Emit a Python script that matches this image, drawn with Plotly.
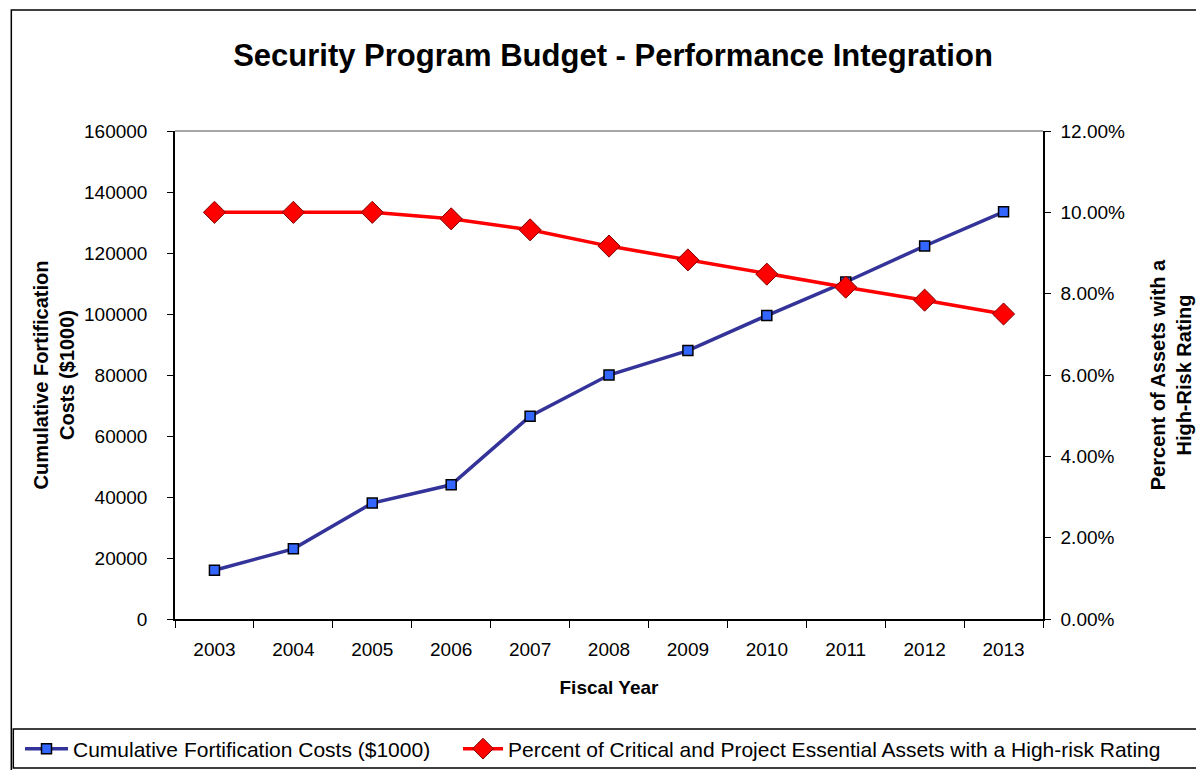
import plotly.graph_objects as go

years = ["2003", "2004", "2005", "2006", "2007", "2008", "2009", "2010", "2011", "2012", "2013"]
costs = [16000, 23000, 38000, 44000, 66500, 80000, 88000, 99500, 110500, 122300, 133500]
pct = [0.1000, 0.1000, 0.1000, 0.0984, 0.0957, 0.0917, 0.0883, 0.0848, 0.0816, 0.0784, 0.0750]

FONT = "Liberation Sans, Arial, sans-serif"

# page body has an 8px margin; work in figure coordinates (screen - 8)
OFF = 8
W, H = 1204 - OFF, 770 - OFF
L, R, T, B = 175 - OFF, W - (1050 - OFF), 131 - OFF, H - (619 - OFF)
pw, ph = W - L - R, H - T - B

def px(x):  # screen x -> paper
    return (x - OFF - L) / pw

def py(y):  # screen y -> paper
    return (H - B - (y - OFF)) / ph

def cx(x):  # screen x -> container
    return (x - OFF) / W

def cy(y):  # screen y -> container
    return 1 - (y - OFF) / H

fig = go.Figure()
fig.add_trace(go.Scatter(
    x=years, y=costs, name="Cumulative Fortification Costs ($1000)",
    mode="lines+markers", legend="legend",
    line=dict(color="#333399", width=3.5),
    marker=dict(symbol="square", size=10, color="#3366FF", line=dict(color="#000000", width=1.5)),
))
fig.add_trace(go.Scatter(
    x=years, y=pct, name="Percent of Critical and Project Essential Assets with a High-risk Rating",
    mode="lines+markers", yaxis="y2", legend="legend2",
    line=dict(color="#FF0000", width=3.5),
    marker=dict(symbol="diamond", size=17, color="#FF0000", line=dict(color="#800000", width=1)),
))

leg_common = dict(orientation="h", xref="container", yref="container",
                  xanchor="left", y=cy(749), yanchor="middle",
                  borderwidth=0, bgcolor="rgba(0,0,0,0)",
                  font=dict(family=FONT, size=21, color="black"))

fig.update_layout(
    width=W, height=H,
    margin=dict(l=L, r=R, t=T, b=B),
    paper_bgcolor="white", plot_bgcolor="white",
    font=dict(family=FONT, size=19, color="black"),
    title=dict(text="<b>Security Program Budget - Performance Integration</b>",
               x=cx(613), xanchor="center", y=cy(55), yanchor="middle",
               font=dict(family=FONT, size=31, color="black")),
    xaxis=dict(type="category", range=[-0.5, 10.5], showline=True, linecolor="black", linewidth=1.5,
               ticks="outside", ticklen=7, tickcolor="black", tickson="boundaries",
               showgrid=False, zeroline=False, ticklabelstandoff=12,
               tickfont=dict(size=19),
               title=dict(text="<b>Fiscal Year</b>", font=dict(size=19), standoff=22)),
    yaxis=dict(range=[0, 160000], dtick=20000, tickformat="d",
               showline=True, linecolor="black", linewidth=1.5,
               ticks="outside", ticklen=6, tickcolor="black", ticklabelstandoff=16,
               showgrid=False, zeroline=False, tickfont=dict(size=19),
               title=dict(text="<b>Cumulative Fortification<br>Costs ($1000)</b>", font=dict(size=20), standoff=4)),
    yaxis2=dict(range=[0, 0.12], dtick=0.02, tickformat=".2%", overlaying="y", side="right",
                showline=True, linecolor="black", linewidth=1.5,
                ticks="outside", ticklen=6, tickcolor="black", ticklabelstandoff=6,
                showgrid=False, zeroline=False, tickfont=dict(size=19),
                title=dict(text="<b>Percent of Assets with a<br>High-Risk Rating</b>", font=dict(size=20), standoff=27)),
    legend=dict(leg_common, x=cx(20), itemwidth=43),
    legend2=dict(leg_common, x=cx(458), itemwidth=40),
    showlegend=True,
)

# gray top border of plot area
fig.add_shape(type="line", xref="paper", yref="paper", x0=0, x1=1, y0=1, y1=1,
              line=dict(color="#888888", width=1.5))
# outer chart border
fig.add_shape(type="rect", xref="paper", yref="paper",
              x0=px(10), x1=px(1220), y0=py(10), y1=py(790),
              line=dict(color="black", width=1.5), fillcolor="rgba(0,0,0,0)", layer="below")
# legend box
fig.add_shape(type="rect", xref="paper", yref="paper",
              x0=px(12), x1=px(1220), y0=py(729), y1=py(768),
              line=dict(color="black", width=1.5), fillcolor="rgba(0,0,0,0)", layer="below")

fig.write_html("out.html")
